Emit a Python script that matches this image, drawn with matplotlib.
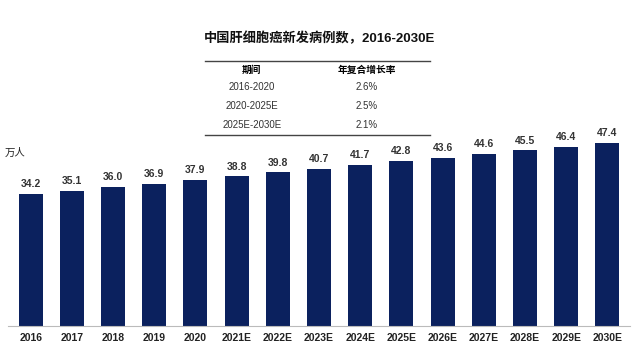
import matplotlib.pyplot as plt
from matplotlib.lines import Line2D

plt.rcParams['font.family'] = ['Liberation Sans', 'Noto Sans CJK SC', 'DejaVu Sans']

years = ['2016', '2017', '2018', '2019', '2020', '2021E', '2022E', '2023E',
         '2024E', '2025E', '2026E', '2027E', '2028E', '2029E', '2030E']
cases = [34.2, 35.1, 36.0, 36.9, 37.9, 38.8, 39.8, 40.7,
         41.7, 42.8, 43.6, 44.6, 45.5, 46.4, 47.4]

periods = ['2016-2020', '2020-2025E', '2025E-2030E']
cagr = ['2.6%', '2.5%', '2.1%']

W, H = 634, 356
fig = plt.figure(figsize=(W / 100, H / 100), dpi=100)

# axes placed in pixel terms: baseline at y=326
ax = fig.add_axes([8 / W, (H - 326) / H, 622 / W, 232 / H])
x = range(len(years))
ax.bar(x, cases, width=0.58, color='#0b215e')
ax.set_xlim(-0.55, len(years) - 0.45)
ax.set_ylim(0, 60.1)
for i, v in enumerate(cases):
    ax.text(i, v + 1.2, f'{v:.1f}', ha='center', va='bottom',
            fontsize=7.5, fontweight='bold', color='#333333')

ax.set_xticks(list(x))
ax.set_xticklabels(years, fontsize=7.5, fontweight='bold', color='#222222')
ax.tick_params(axis='x', length=0, pad=5)
ax.set_yticks([])
for s in ['top', 'right', 'left']:
    ax.spines[s].set_visible(False)
ax.spines['bottom'].set_color('#bbbbbb')

fig.text(5 / W, 1 - 153 / H, '万人', fontsize=7.5, va='center', ha='left', color='#222222')

fig.text(320 / W, 1 - 38 / H, '中国肝细胞癌新发病例数，2016-2030E',
         fontsize=9.5, fontweight='bold', ha='center', va='center', color='#111111')

# growth table
fig.add_artist(Line2D([205 / W, 430 / W], [1 - 61 / H, 1 - 61 / H], color='#444444', lw=1))
fig.add_artist(Line2D([205 / W, 430 / W], [1 - 135 / H, 1 - 135 / H], color='#444444', lw=1))
col1, col2 = 252 / W, 367 / W
fig.text(col1, 1 - 70 / H, '期间', fontsize=7, fontweight='bold', ha='center', va='center')
fig.text(col2, 1 - 70 / H, '年复合增长率', fontsize=7, fontweight='bold', ha='center', va='center')
for j, (p, c) in enumerate(zip(periods, cagr)):
    yy = 1 - (87 + 19 * j) / H
    fig.text(col1, yy, p, fontsize=7, ha='center', va='center', color='#333333')
    fig.text(col2, yy, c, fontsize=7, ha='center', va='center', color='#333333')

fig.savefig('out.png', dpi=100)
